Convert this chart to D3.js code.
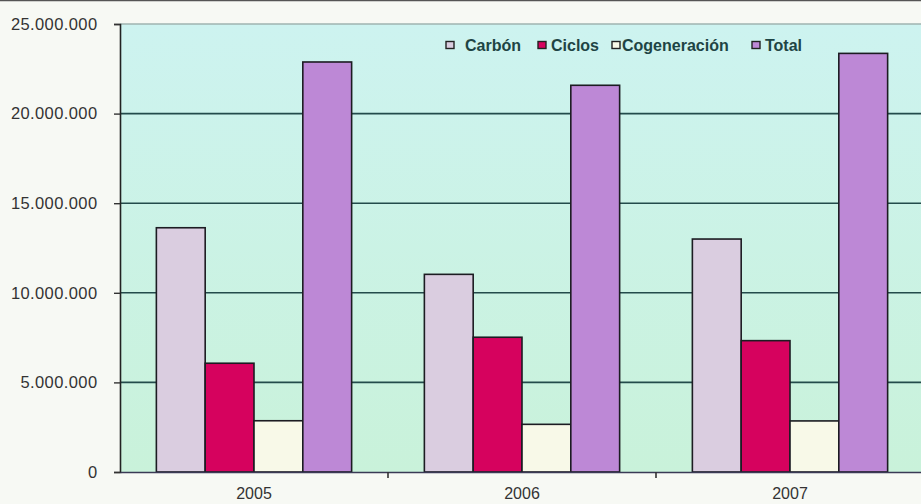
<!DOCTYPE html>
<html>
<head>
<meta charset="utf-8">
<script src="https://cdn.jsdelivr.net/npm/d3@7/dist/d3.min.js"></script>
<style>
  html, body { margin: 0; padding: 0; background: #f7f9f4; }
  svg { display: block; }
  text { font-family: "Liberation Sans", Arial, sans-serif; }
</style>
</head>
<body>
<svg id="chart" width="921" height="504"></svg>
<script>
// Emisiones por tecnología y año
const years = ["2005", "2006", "2007"];
const seriesNames = ["Carbón", "Ciclos", "Cogeneración", "Total"];
const carbon = [13630000, 11030000, 13000000];
const ciclos = [6070000, 7520000, 7330000];
const cogeneracion = [2860000, 2660000, 2850000];
const total = [22880000, 21580000, 23360000];
const yTicks = [0, 5000000, 10000000, 15000000, 20000000, 25000000];
const seriesColors = ["#dacde0", "#d6025e", "#f8f9e8", "#bd88d6"];

const seriesValues = [carbon, ciclos, cogeneracion, total];
const rows = years.map((y, i) => ({
  year: y,
  values: seriesNames.map((s, j) => ({ key: s, value: seriesValues[j][i] }))
}));

const svg = d3.select("#chart");
const W = 921, H = 504;
const margin = { top: 24, right: -3, bottom: 32, left: 120 };
const plotW = W - margin.left - margin.right;
const plotH = H - margin.top - margin.bottom;

// page frame line at the top
svg.append("line").attr("x1", 0).attr("x2", W).attr("y1", 0.5).attr("y2", 0.5)
  .attr("stroke", "#555").attr("stroke-width", 1.5);

const defs = svg.append("defs");
const grad = defs.append("linearGradient").attr("id", "plotBg")
  .attr("x1", 0).attr("y1", 0).attr("x2", 0).attr("y2", 1);
grad.append("stop").attr("offset", "0%").attr("stop-color", "#cdf3f0");
grad.append("stop").attr("offset", "100%").attr("stop-color", "#c9f2da");

const g = svg.append("g").attr("transform", `translate(${margin.left},${margin.top})`);

const x0 = d3.scaleBand().domain(years).range([0, plotW]).paddingInner(0).paddingOuter(0);
const x1 = d3.scaleBand().domain(seriesNames).range([0, x0.bandwidth()]).paddingInner(0).paddingOuter(0.745);
const y = d3.scaleLinear().domain([0, 25000000]).range([plotH, 0]);
const color = d3.scaleOrdinal().domain(seriesNames).range(seriesColors);

g.append("rect").attr("x", 0).attr("y", 0).attr("width", plotW).attr("height", plotH)
  .attr("fill", "url(#plotBg)");

// horizontal grid lines
g.append("g").selectAll("line").data(yTicks.filter(t => t > 0)).join("line")
  .attr("x1", 0).attr("x2", plotW)
  .attr("y1", d => y(d)).attr("y2", d => y(d))
  .attr("stroke", d => d === 25000000 ? "#9fb3b0" : "#234b4b")
  .attr("stroke-width", d => d === 25000000 ? 1.5 : 1.6);

// bars
const groups = g.append("g").selectAll("g").data(rows).join("g")
  .attr("transform", d => `translate(${x0(d.year)},0)`);
groups.selectAll("rect").data(d => d.values).join("rect")
  .attr("x", d => x1(d.key))
  .attr("y", d => y(d.value))
  .attr("width", x1.bandwidth())
  .attr("height", d => plotH - y(d.value))
  .attr("fill", d => color(d.key))
  .attr("stroke", "#1c1c22")
  .attr("stroke-width", 1.6);

// y axis
const yAxis = d3.axisLeft(y).tickValues(yTicks).tickSize(6).tickPadding(16.5)
  .tickFormat(d => d3.format(",")(d).replace(/,/g, "."));
const ya = g.append("g").call(yAxis);
ya.select(".domain").attr("stroke", "#222").attr("stroke-width", 1.6);
ya.selectAll(".tick line").attr("stroke", "#333").attr("stroke-width", 1.4);
ya.selectAll(".tick text").attr("fill", "#333").style("font-size", "16.5px")
  .style("letter-spacing", "0.4px");

// x axis
const xAxis = d3.axisBottom(x0).tickSize(0).tickPadding(16);
const xa = g.append("g").attr("transform", `translate(0,${plotH})`).call(xAxis);
xa.select(".domain").attr("stroke", "#3a3a55").attr("stroke-width", 1.6);
xa.selectAll(".tick text").attr("fill", "#333").style("font-size", "16px");
// category separators below the axis
g.append("g").selectAll("line").data(years.slice(1)).join("line")
  .attr("x1", d => x0(d)).attr("x2", d => x0(d))
  .attr("y1", plotH).attr("y2", plotH + 6)
  .attr("stroke", "#333").attr("stroke-width", 1.6);

// legend
const markerX = [446, 538, 612, 752];
const labelX = [465, 551, 622, 765];
const legend = svg.append("g").attr("transform", "translate(0,45)");
const items = legend.selectAll("g").data(seriesNames).join("g");
items.append("rect").attr("x", (d, i) => markerX[i]).attr("y", -3.5).attr("width", 8).attr("height", 7)
  .attr("fill", d => color(d)).attr("stroke", "#222").attr("stroke-width", 1.4);
items.append("text").attr("x", (d, i) => labelX[i]).attr("y", 5.5).text(d => d)
  .attr("fill", "#1e4444").style("font-size", "16px").style("font-weight", "bold");
</script>
</body>
</html>
